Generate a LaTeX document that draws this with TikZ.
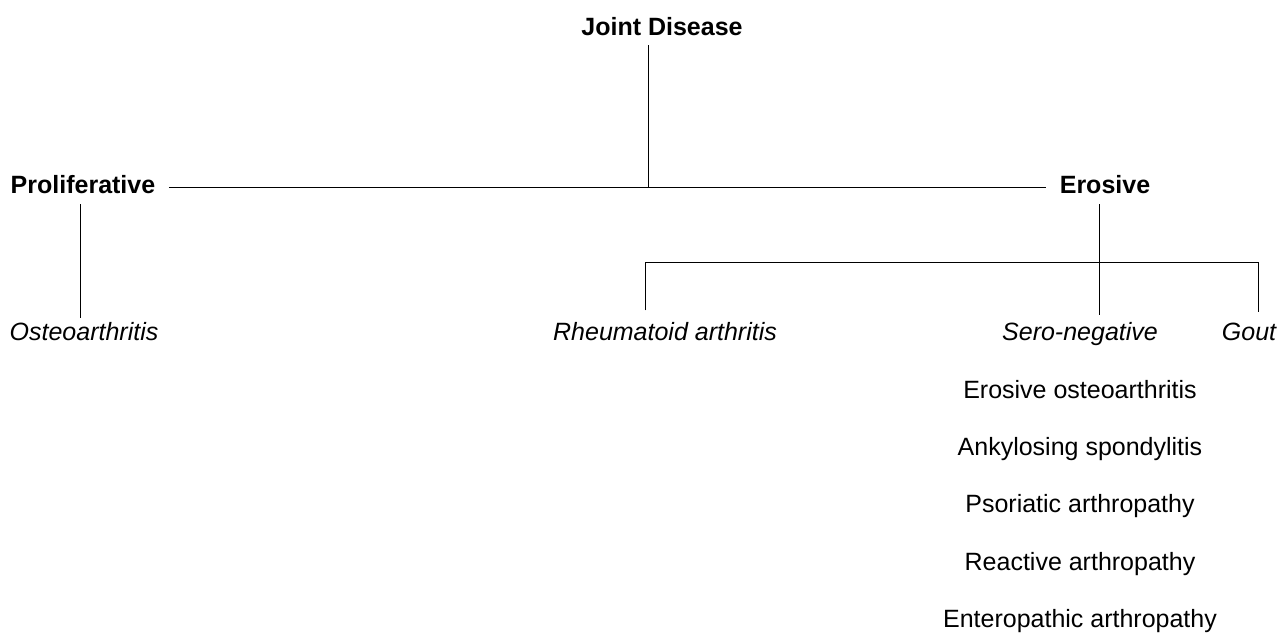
\documentclass[tikz,border=0pt]{standalone}
\usepackage{fontspec}
\setmainfont{Liberation Sans}
\usetikzlibrary{positioning}

\begin{document}
\begin{tikzpicture}[x=1pt, y=-1pt, line width=1pt,
    txt/.style={font=\fontsize{25}{30}\selectfont, text height=18pt, text depth=6pt,
      inner xsep=13pt, inner ysep=3pt},
    main/.style={txt, font=\fontsize{25}{30}\selectfont\bfseries},
    sub/.style={txt, font=\fontsize{25}{30}\selectfont\itshape},
    item/.style={txt}]
    % Page frame (same proportions as the original)
    \useasboundingbox (0,0) rectangle (1278,636);

    % Top of the tree
    \node[main] (jd) at (662,30) {Joint Disease};
    \node[main] (pro) at (83,188) {Proliferative};
    \node[main] (ero) at (1105,188) {Erosive};

    % Second level
    \node[sub] (oa) at (84,335) {Osteoarthritis};
    \node[sub] (ra) at (665,335) {Rheumatoid arthritis};
    \node[sub] (sn) at (1080,335) {Sero-negative};
    \node[sub] (gout) at (1249,335) {Gout};
    \coordinate (bar) at (0,263);

    % Sero-negative list
    \foreach \t [count=\i] in {Erosive osteoarthritis, Ankylosing spondylitis,
        Psoriatic arthropathy, Reactive arthropathy, Enteropathic arthropathy} {
      \node[item] (s\i) at (1080, 335+57.3*\i) {\t};
    }

    % Connectors
    \draw (pro.east) -- (ero.west);
    \draw ([xshift=-14]jd.south) -- ([xshift=-14]jd.south |- pro.east);
    \draw ([xshift=-3,yshift=-1]pro.south) -- ([xshift=-3,yshift=1]pro.south |- oa.north);
    \draw ([xshift=-6,yshift=-1]ero.south) -- ([xshift=-6,yshift=4]ero.south |- sn.north);
    \draw ([xshift=-20,yshift=9]ra.north) -- ([xshift=-20]ra.north |- bar)
      -- ([xshift=9]gout.north |- bar) -- ([xshift=9,yshift=7]gout.north);
\end{tikzpicture}
\end{document}
